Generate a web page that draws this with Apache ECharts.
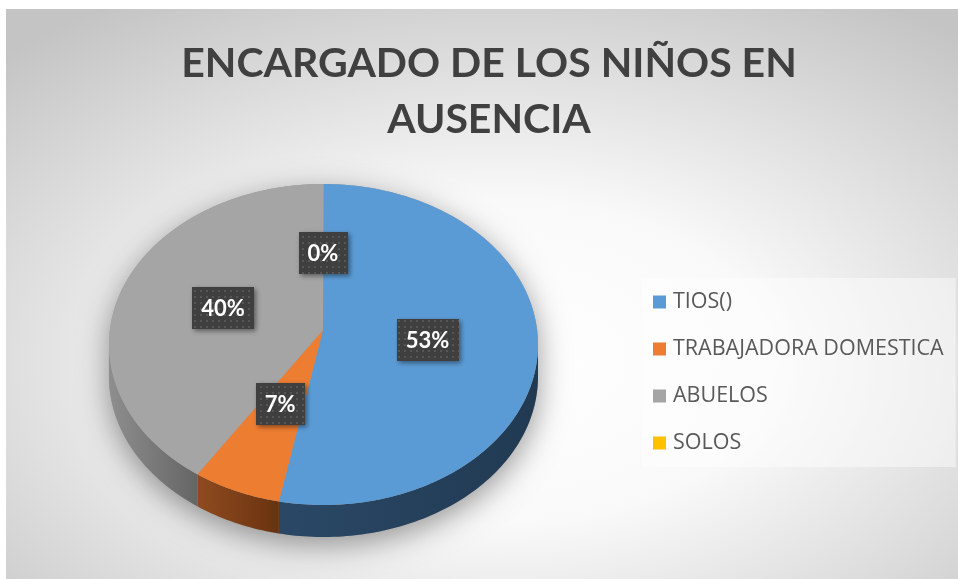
<!DOCTYPE html>
<html>
<head>
<meta charset="utf-8">
<script src="https://cdn.jsdelivr.net/npm/echarts@6/dist/echarts.min.js"></script>
<style>
  html, body { margin: 0; padding: 0; background: #fff; }
  #chart { width: 958px; height: 579px; }
</style>
</head>
<body>
<div id="chart"></div>
<script>
var categories = ['TIOS()', 'TRABAJADORA DOMESTICA', 'ABUELOS', 'SOLOS'];
var counts = [8, 1, 6, 0];
var colors = ['#5b9bd5', '#ed7d31', '#a5a5a5', '#ffc000'];
var sideColors = [['#2a4866', '#213a52'], ['#8f4b1f', '#693310'], ['#8e8e8e', '#656565'], ['#bf9000', '#946f00']];

// pie geometry (3d look, tilted ellipse)
var CX = 323.5, CY = 344.5, RX = 214.5, RY = 160.5;
var AX = 323, AY = 330, DEPTH = 32;
var LABEL_F = 0.49;
var labelFont = 'bold 22px Lato, "Open Sans", sans-serif';

var total = counts.reduce(function (a, b) { return a + b; }, 0);
var startAngles = [];
var acc = 0;
for (var k = 0; k < counts.length; k++) {
  startAngles.push(acc / total * Math.PI * 2);
  acc += counts[k];
}

// dotted fill for the label boxes
var dots = document.createElement('canvas');
dots.width = 6; dots.height = 6;
var dctx = dots.getContext('2d');
dctx.fillStyle = '#3f3f3f';
dctx.fillRect(0, 0, 6, 6);
dctx.fillStyle = '#565656';
dctx.fillRect(2, 2, 2, 2);

var measure = document.createElement('canvas').getContext('2d');
measure.font = labelFont;

function pt(t, dy) {
  return [CX + RX * Math.sin(t), CY - RY * Math.cos(t) + (dy || 0)];
}
function arc(a, b, dy) {
  var n = Math.max(2, Math.ceil(Math.abs(b - a) / 0.02));
  var pts = [];
  for (var j = 0; j <= n; j++) pts.push(pt(a + (b - a) * j / n, dy));
  return pts;
}

function renderSlice(params, api) {
  var i = params.dataIndex;
  var v = api.value(0);
  var t1 = startAngles[i];
  var t2 = t1 + v / total * Math.PI * 2;
  var children = [];

  if (i === 0) {
    // soft shadow under the whole pie
    var sil = arc(-Math.PI / 2, Math.PI / 2, 0).concat(arc(Math.PI / 2, Math.PI * 1.5, DEPTH));
    children.push({
      type: 'polygon', z2: 1, shape: { points: sil },
      style: { fill: '#9a9a9a', shadowBlur: 30, shadowOffsetY: 8, shadowColor: 'rgba(0,0,0,0.4)' }
    });
  }

  if (v > 0) {
    // front wall
    var a = Math.max(t1, Math.PI / 2), b = Math.min(t2, Math.PI * 1.5);
    if (b > a) {
      var top = arc(a, b, 0);
      var bottom = arc(b, a, DEPTH);
      var xs = top.map(function (p) { return p[0]; });
      var x0 = Math.min.apply(null, xs), x1 = Math.max.apply(null, xs);
      children.push({
        type: 'polygon', z2: 5, shape: { points: top.concat(bottom) },
        style: {
          fill: new echarts.graphic.LinearGradient(x0, 0, x1, 0, [
            { offset: 0, color: sideColors[i][0] },
            { offset: 1, color: sideColors[i][1] }
          ], true)
        }
      });
    }
    // top face
    children.push({
      type: 'polygon', z2: 10,
      shape: { points: [[AX, AY]].concat(arc(t1, t2, 0)) },
      style: { fill: colors[i] }
    });
  }

  // data label
  var mid = (t1 + t2) / 2;
  var lx = AX + LABEL_F * RX * Math.sin(mid);
  var ly = AY - LABEL_F * RY * Math.cos(mid) + 2;
  var txt = Math.round(v / total * 100) + '%';
  var w = Math.round(measure.measureText(txt).width) + 18, h = 42;
  children.push({
    type: 'rect', z2: 20,
    shape: { x: Math.round(lx - w / 2), y: Math.round(ly - h / 2), width: w, height: h },
    style: {
      fill: { type: 'pattern', image: dots, repeat: 'repeat' },
      shadowBlur: 5, shadowOffsetX: 2, shadowOffsetY: 2, shadowColor: 'rgba(0,0,0,0.45)'
    }
  });
  children.push({
    type: 'text', z2: 21, x: lx, y: ly + 1,
    style: { text: txt, fill: '#ffffff', font: labelFont, align: 'center', verticalAlign: 'middle' }
  });

  return { type: 'group', children: children };
}

var chart = echarts.init(document.getElementById('chart'));
chart.setOption({
  color: colors,
  animation: false,
  graphic: [{
    type: 'rect', z: -10, silent: true,
    x: 6, y: 9, scaleX: 952 / 570,
    shape: { x: 0, y: 0, width: 570, height: 570 },
    style: {
      fill: new echarts.graphic.RadialGradient(0.52, 0.62, 0.75, [
        { offset: 0, color: '#ffffff' },
        { offset: 0.38, color: '#f9f9f9' },
        { offset: 1, color: '#c4c4c4' }
      ])
    }
  }],
  title: {
    text: 'ENCARGADO DE LOS NIÑOS EN\nAUSENCIA',
    left: 484,
    top: 31,
    textAlign: 'center',
    textStyle: {
      fontFamily: 'Lato, sans-serif',
      fontSize: 41,
      fontWeight: 'bold',
      color: '#404040',
      lineHeight: 56
    }
  },
  legend: {
    orient: 'vertical',
    left: 642,
    top: 278,
    padding: [13, 12, 13, 11],
    itemGap: 25,
    itemWidth: 13,
    itemHeight: 13,
    icon: 'rect',
    selectedMode: false,
    backgroundColor: 'rgba(255,255,255,0.45)',
    data: categories,
    textStyle: {
      fontFamily: '"Open Sans", sans-serif',
      fontSize: 21.5,
      lineHeight: 20,
      color: '#595959',
      padding: [0, 0, 0, 2]
    }
  },
  series: [{
    type: 'custom',
    coordinateSystem: 'none',
    renderItem: renderSlice,
    data: counts.map(function (v) { return [v]; }),
    silent: true
  }, {
    // only feeds the legend
    type: 'pie',
    center: [-200, -200],
    radius: [0, 1],
    silent: true,
    label: { show: false },
    labelLine: { show: false },
    data: categories.map(function (c, i) { return { name: c, value: counts[i] }; })
  }]
});
</script>
</body>
</html>
